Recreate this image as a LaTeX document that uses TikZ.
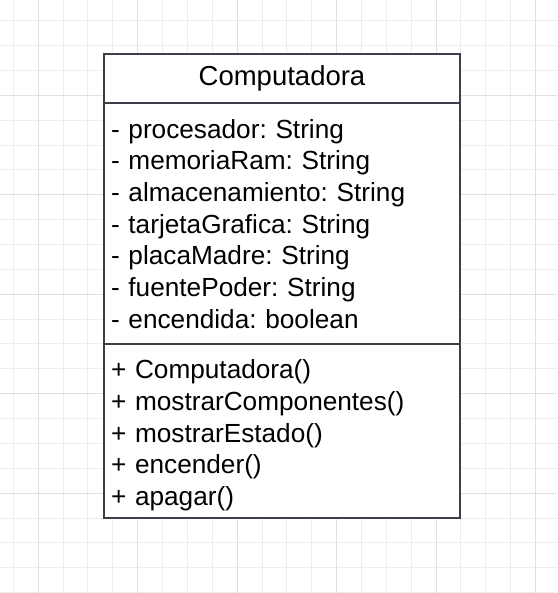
\documentclass[tikz,border=0pt]{standalone}
\usepackage{fontspec}
\setmainfont{Liberation Sans}
\usetikzlibrary{positioning}
\definecolor{gridminor}{RGB}{237,237,237}
\definecolor{gridmajor}{RGB}{224,224,224}
\definecolor{umlline}{RGB}{58,63,72}
\frenchspacing

\begin{document}
\begin{tikzpicture}[
    x=1pt, y=-1pt,
    node distance=0pt,
    every node/.style={font=\fontsize{26.2}{31.7}\selectfont},
    minorline/.style={draw=gridminor, line width=1pt},
    majorline/.style={draw=gridmajor, line width=1pt},
    classpart/.style={draw=umlline, line width=2pt, fill=white, outer sep=0pt,
        minimum width=356pt, text width=342pt, inner xsep=7pt, inner ysep=0pt}
]
   \useasboundingbox (0,0) rectangle (557,593);

   % Grid
   \foreach \k in {0,...,21} {
      \draw[minorline] ({13.4+24.86*\k},0) -- ({13.4+24.86*\k},593);
   }
   \foreach \k in {0,...,23} {
      \draw[minorline] (0,{20.8+24.86*\k}) -- (557,{20.8+24.86*\k});
   }
   \foreach \m in {0,...,5} \draw[majorline] ({38.3+99.44*\m},0) -- ({38.3+99.44*\m},593);
   \foreach \m in {0,...,4} \draw[majorline] (0,{95.4+99.44*\m}) -- (557,{95.4+99.44*\m});

   % Class
   \node[classpart, minimum height=49.3pt, align=center,
         font=\fontsize{27.5}{31.7}\selectfont] (name) at (282,78.65) {Computadora};
   \node[classpart, minimum height=241pt, align=left] (attrs) [below=of name]
      {- procesador: String\\
       - memoriaRam: String\\
       - almacenamiento: String\\
       - tarjetaGrafica: String\\
       - placaMadre: String\\
       - fuentePoder: String\\
       - encendida: boolean};
   \node[classpart, minimum height=174pt, align=left] (methods) [below=of attrs]
      {\rule{0pt}{27pt}+ Computadora()\\
       + mostrarComponentes()\\
       + mostrarEstado()\\
       + encender()\\
       + apagar()};

\end{tikzpicture}
\end{document}
